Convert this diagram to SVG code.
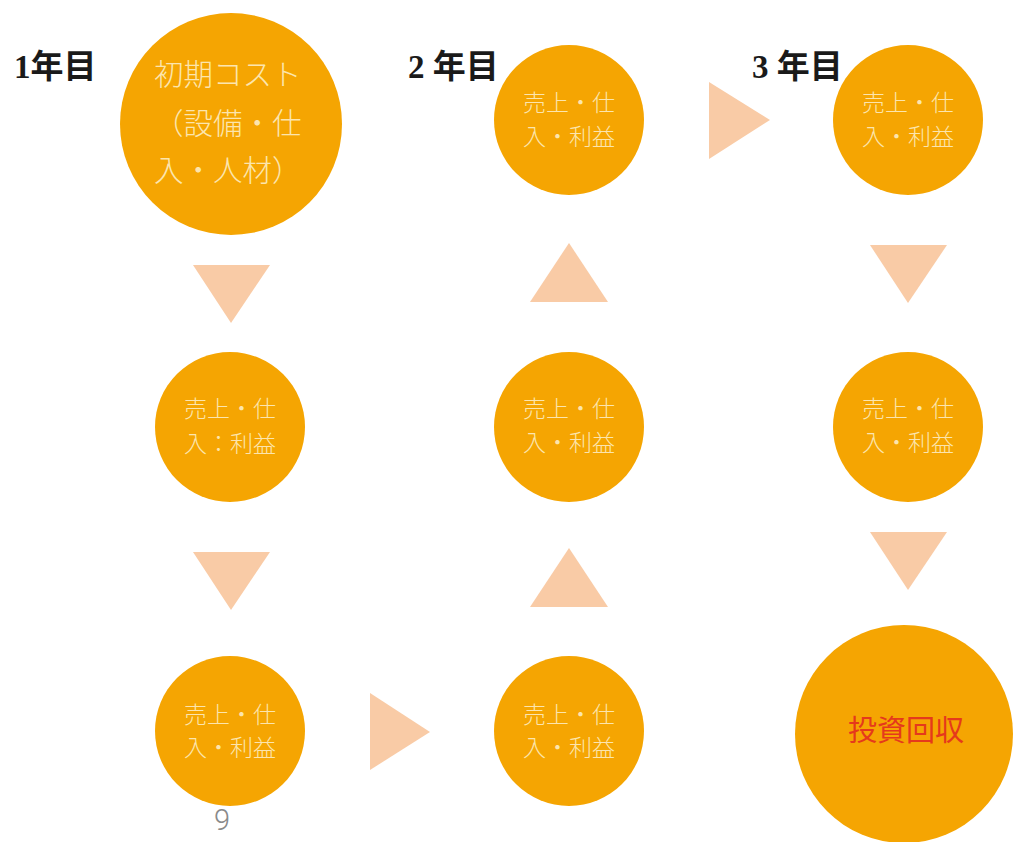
<svg xmlns="http://www.w3.org/2000/svg" width="1015" height="842" viewBox="0 0 1015 842">
<style>
.c{fill:#F5A502}
.t{fill:#FCE5AE;font-family:"Noto Sans CJK JP",sans-serif;font-weight:300;font-size:23px;text-anchor:middle}
.tb{fill:#FCE5AE;font-family:"Noto Sans CJK JP",sans-serif;font-weight:300;font-size:29.5px}
.yr{fill:#1a1a1a;font-family:"Liberation Serif","Noto Sans CJK JP",serif;font-weight:bold;font-size:33px}
.tri{fill:#F9CBA6}
</style>
<rect width="1015" height="842" fill="#ffffff"/>
<g id="labels">
<text class="yr" x="14" y="78">1年目</text>
<text class="yr" x="408" y="78">2 年目</text>
<text class="yr" x="752" y="78">3 年目</text>
</g>
<g id="connectors">
<polygon class="tri" points="193,265 270,265 231,323"/>
<polygon class="tri" points="193,552 270,552 231,610"/>
<polygon class="tri" points="370,693 370,770 430,732"/>
<polygon class="tri" points="530,302 608,302 569,243"/>
<polygon class="tri" points="530,607 608,607 569,548"/>
<polygon class="tri" points="709,82 709,159 770,120"/>
<polygon class="tri" points="870,245 947,245 908,303"/>
<polygon class="tri" points="870,532 947,532 908,590"/>
</g>
<g id="n-start">
<circle class="c" cx="231" cy="124" r="111"/>
<text class="tb" x="154" y="85">初期コスト</text>
<text class="tb" x="154" y="134">（設備・仕</text>
<text class="tb" x="154" y="181">入・人材）</text>
</g>
<g id="n-y1-2">
<circle class="c" cx="230" cy="427" r="75"/>
<text class="t" x="230" y="417">売上・仕</text>
<text class="t" x="230" y="452">入：利益</text>
</g>
<g id="n-y1-3">
<circle class="c" cx="230" cy="731" r="75"/>
<text class="t" x="230" y="723">売上・仕</text>
<text class="t" x="230" y="756">入・利益</text>
</g>
<g id="n-y2-3">
<circle class="c" cx="569" cy="731" r="75"/>
<text class="t" x="569" y="723">売上・仕</text>
<text class="t" x="569" y="756">入・利益</text>
</g>
<g id="n-y2-2">
<circle class="c" cx="569" cy="427" r="75"/>
<text class="t" x="569" y="417">売上・仕</text>
<text class="t" x="569" y="451">入・利益</text>
</g>
<g id="n-y2-1">
<circle class="c" cx="569" cy="120" r="75"/>
<text class="t" x="569" y="111">売上・仕</text>
<text class="t" x="569" y="145">入・利益</text>
</g>
<g id="n-y3-1">
<circle class="c" cx="908" cy="120" r="75"/>
<text class="t" x="908" y="111">売上・仕</text>
<text class="t" x="908" y="145">入・利益</text>
</g>
<g id="n-y3-2">
<circle class="c" cx="908" cy="427" r="75"/>
<text class="t" x="908" y="417">売上・仕</text>
<text class="t" x="908" y="451">入・利益</text>
</g>
<g id="n-end">
<circle class="c" cx="904" cy="734" r="109"/>
<text x="906" y="741" fill="#E5391C" font-family="Noto Sans CJK JP,sans-serif" font-size="29" text-anchor="middle">投資回収</text>
</g>
<g id="page">
<text x="222" y="830" fill="#8a8a8a" font-family="Roboto,sans-serif" font-weight="300" font-size="29" text-anchor="middle">9</text>
</g>
</svg>
